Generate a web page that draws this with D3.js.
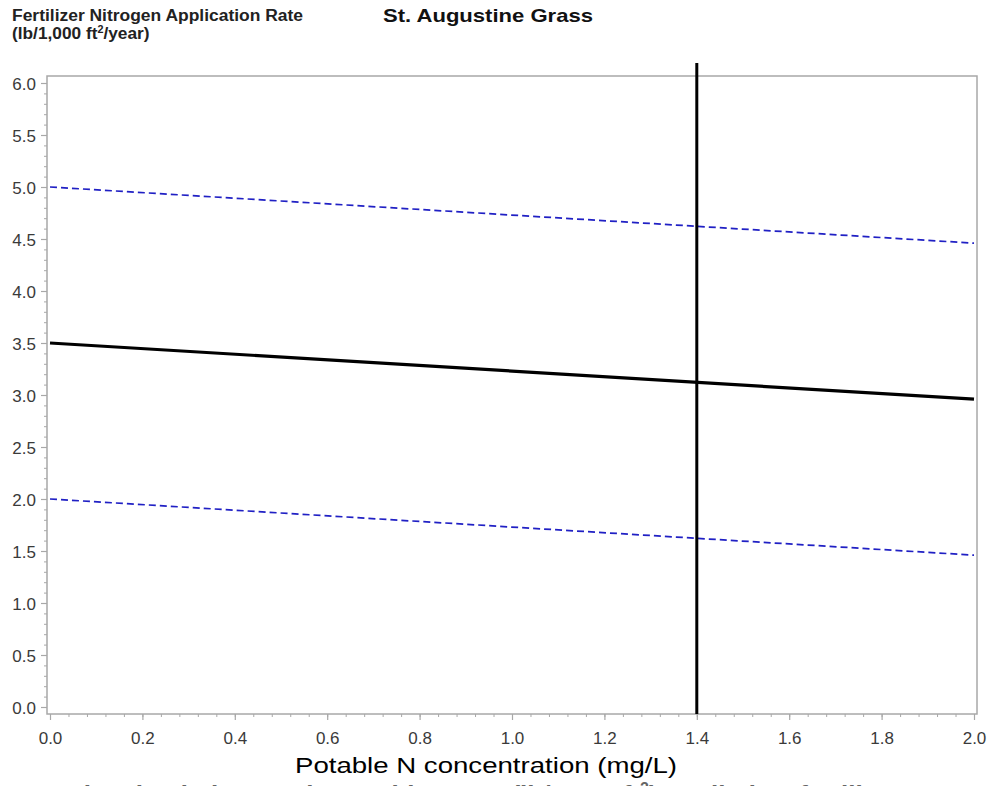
<!DOCTYPE html>
<html>
<head>
<meta charset="utf-8">
<script src="https://cdn.jsdelivr.net/npm/d3@7"></script>
<style>
  body { margin: 0; background: #fff; overflow: hidden; }
  text { font-family: Arial, "Liberation Sans", sans-serif; }
</style>
</head>
<body>
<div id="chart"></div>
<script>
// values
const xPoints = [0, 2.0];
const rateMid = [3.5, 2.96];
const rateUpper = [5.0, 4.46];
const rateLower = [2.0, 1.46];
const potableN = 1.4;
const xTicks = [0, 0.2, 0.4, 0.6, 0.8, 1.0, 1.2, 1.4, 1.6, 1.8, 2.0];
const yTicks = [0, 0.5, 1.0, 1.5, 2.0, 2.5, 3.0, 3.5, 4.0, 4.5, 5.0, 5.5, 6.0];

const width = 987, height = 786;

const svg = d3.select('#chart').append('svg')
    .attr('width', width)
    .attr('height', height);

// the source picture is a bit stretched sideways, so texts get a fixed length
const fit = (sel, len) => sel.attr('textLength', len).attr('lengthAdjust', 'spacingAndGlyphs');

// frame box and scales
const frame = {left: 47, right: 977, top: 76, bottom: 714};
const x = d3.scaleLinear().domain([0, 2]).range([50, 974]);
const y = d3.scaleLinear().domain([0, 6]).range([707, 83]);

svg.append('rect')
    .attr('x', frame.left).attr('y', frame.top)
    .attr('width', frame.right - frame.left)
    .attr('height', frame.bottom - frame.top)
    .attr('fill', 'none')
    .attr('stroke', '#a8a8a8')
    .attr('stroke-width', 1.5);

// y axis, minor ticks first
svg.append('g')
    .attr('transform', `translate(${frame.left},0)`)
    .call(d3.axisLeft(y).tickValues(d3.range(0, 60.5, 1).map(d => d / 10)).tickSize(3).tickFormat(''))
    .call(g => g.select('.domain').remove())
    .call(g => g.selectAll('line').attr('stroke', '#a8a8a8'));

svg.append('g')
    .attr('transform', `translate(${frame.left},0)`)
    .call(d3.axisLeft(y).tickValues(yTicks).tickSize(6).tickPadding(5).tickFormat(d3.format('.1f')))
    .call(g => g.select('.domain').remove())
    .call(g => g.selectAll('line').attr('stroke', '#a8a8a8').attr('stroke-width', 1.2))
    .call(g => g.selectAll('text').attr('font-size', 17).attr('fill', '#3a3a3a').attr('dy', '0.36em'));

// x axis
svg.append('g')
    .attr('transform', `translate(0,${frame.bottom})`)
    .call(d3.axisBottom(x).tickValues(d3.range(0, 50.5, 1).map(d => d / 25)).tickSize(3).tickFormat(''))
    .call(g => g.select('.domain').remove())
    .call(g => g.selectAll('line').attr('stroke', '#a8a8a8'));

svg.append('g')
    .attr('transform', `translate(0,${frame.bottom})`)
    .call(d3.axisBottom(x).tickValues(xTicks).tickSize(6).tickPadding(12).tickFormat(d3.format('.1f')))
    .call(g => g.select('.domain').remove())
    .call(g => g.selectAll('line').attr('stroke', '#a8a8a8').attr('stroke-width', 1.2))
    .call(g => g.selectAll('text').attr('font-size', 17).attr('fill', '#3a3a3a'));

// lines
const line = d3.line().x(d => x(d[0])).y(d => y(d[1]));

[rateUpper, rateLower].forEach(vals => {
  svg.append('path')
      .datum(xPoints.map((d, i) => [d, vals[i]]))
      .attr('d', line)
      .attr('fill', 'none')
      .attr('stroke', '#2020c4')
      .attr('stroke-width', 1.7)
      .attr('stroke-dasharray', '7,4');
});

svg.append('path')
    .datum(xPoints.map((d, i) => [d, rateMid[i]]))
    .attr('d', line)
    .attr('fill', 'none')
    .attr('stroke', '#000')
    .attr('stroke-width', 3.2);

svg.append('line')
    .attr('x1', x(potableN)).attr('x2', x(potableN))
    .attr('y1', 63).attr('y2', frame.bottom)
    .attr('stroke', '#000')
    .attr('stroke-width', 3);

// titles
svg.append('text')
    .attr('x', 12).attr('y', 21)
    .attr('font-size', 16).attr('font-weight', 'bold').attr('fill', '#222')
    .text('Fertilizer Nitrogen Application Rate')
    .call(fit, 291);

const yt = svg.append('text')
    .attr('x', 12).attr('y', 39)
    .attr('font-size', 16).attr('font-weight', 'bold').attr('fill', '#222')
    .attr('transform', 'translate(12,0) scale(1.08,1) translate(-12,0)');
yt.append('tspan').text('(lb/1,000 ft');
yt.append('tspan').attr('font-size', 10).attr('dy', -6).text('2');
yt.append('tspan').attr('dy', 6).text('/year)');

svg.append('text')
    .attr('x', 383).attr('y', 22)
    .attr('font-size', 18.5).attr('font-weight', 'bold').attr('fill', '#111')
    .text('St. Augustine Grass')
    .call(fit, 210);

svg.append('text')
    .attr('x', 295).attr('y', 773)
    .attr('font-size', 22).attr('fill', '#000')
    .text('Potable N concentration (mg/L)')
    .call(fit, 382);

// caption cut off by the bottom edge
const cap = svg.append('text')
    .attr('x', 65).attr('y', 804)
    .attr('font-size', 26).attr('font-weight', 'bold').attr('fill', '#666');
cap.append('tspan').text('Dissolved nitrogen in potable water (lb/1,000 ft');
cap.append('tspan').attr('font-size', 16).attr('dy', -10).text('2');
cap.append('tspan').attr('dy', 10).text(') applied as fertilizer');
</script>
</body>
</html>
